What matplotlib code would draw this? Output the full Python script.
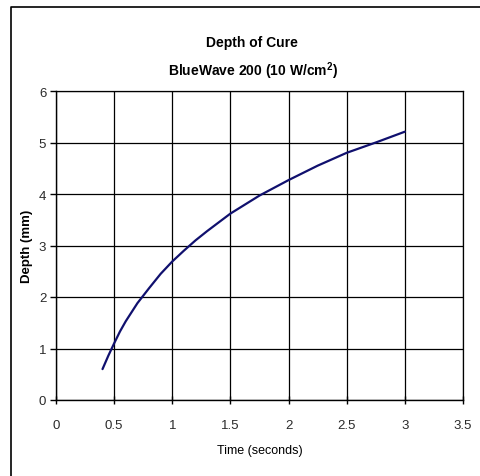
import matplotlib
matplotlib.use("Agg")
import matplotlib.pyplot as plt
from matplotlib.lines import Line2D

plt.rcParams['font.family'] = ['Liberation Sans', 'DejaVu Sans']
plt.rcParams['mathtext.default'] = 'regular'

# depth of cure
time_s = [0.4, 0.45, 0.5, 0.55, 0.6, 0.7, 0.8, 0.9, 1.0, 1.1, 1.2, 1.3, 1.4, 1.5,
          1.75, 2.0, 2.25, 2.5, 2.75, 3.0]
depth_mm = [0.6, 0.86, 1.1, 1.33, 1.53, 1.88, 2.17, 2.45, 2.69, 2.9, 3.1, 3.28, 3.45, 3.62,
            3.97, 4.27, 4.55, 4.8, 5.0, 5.21]

x_ticks = [0, 0.5, 1, 1.5, 2, 2.5, 3, 3.5]
x_labels = ['0', '0.5', '1', '1.5', '2', '2.5', '3', '3.5']
y_ticks = [0, 1, 2, 3, 4, 5, 6]

W, H = 481, 477
fig = plt.figure(figsize=(W / 100, H / 100), dpi=100)
ax = fig.add_axes([56 / W, 1 - 401 / H, (463 - 56) / W, (401 - 92) / H])

ax.plot(time_s, depth_mm, color='#10106e', lw=1.6, solid_capstyle='round',
        solid_joinstyle='round')

ax.set_xlim(0, 3.5)
ax.set_ylim(0, 6)
ax.set_xticks(x_ticks)
ax.set_xticklabels(x_labels)
ax.set_yticks(y_ticks)
ax.grid(True, color='black', lw=0.9)
ax.set_axisbelow(True)

# top/right edges are just the outer gridlines
for s in ['top', 'right']:
    ax.spines[s].set_linewidth(0.9)
for s in ['left', 'bottom']:
    ax.spines[s].set_linewidth(1.0)
ax.tick_params(axis='y', direction='out', length=4, width=1, labelsize=9.5, colors='black',
               labelcolor='#2a2a2a', pad=3)
ax.tick_params(axis='x', direction='inout', length=6, width=1, labelsize=9.5, colors='black',
               labelcolor='#2a2a2a', pad=11)

ax.set_xlabel('Time (seconds)', fontsize=9)
ax.xaxis.set_label_coords(0.5, -(445 - 401) / 309)
ax.set_ylabel('Depth (mm)', fontsize=9.5, fontweight='bold')
ax.yaxis.set_label_coords(-(56 - 33) / 407, 0.5)

fig.text(252 / W, 1 - 43 / H, 'Depth of Cure', ha='center', va='center',
         fontsize=10, fontweight='bold')
fig.text(253 / W, 1 - 71 / H, 'BlueWave 200 (10 W/cm$^{2}$)', ha='center', va='center',
         fontsize=10, fontweight='bold')

# chart area border (cropped on right and bottom)
fig.add_artist(Line2D([11 / W, 11 / W, 1], [0, 1 - 8 / H, 1 - 8 / H],
                      transform=fig.transFigure, color='black', lw=1.2))

fig.savefig('out.png', dpi=100, facecolor='white')
